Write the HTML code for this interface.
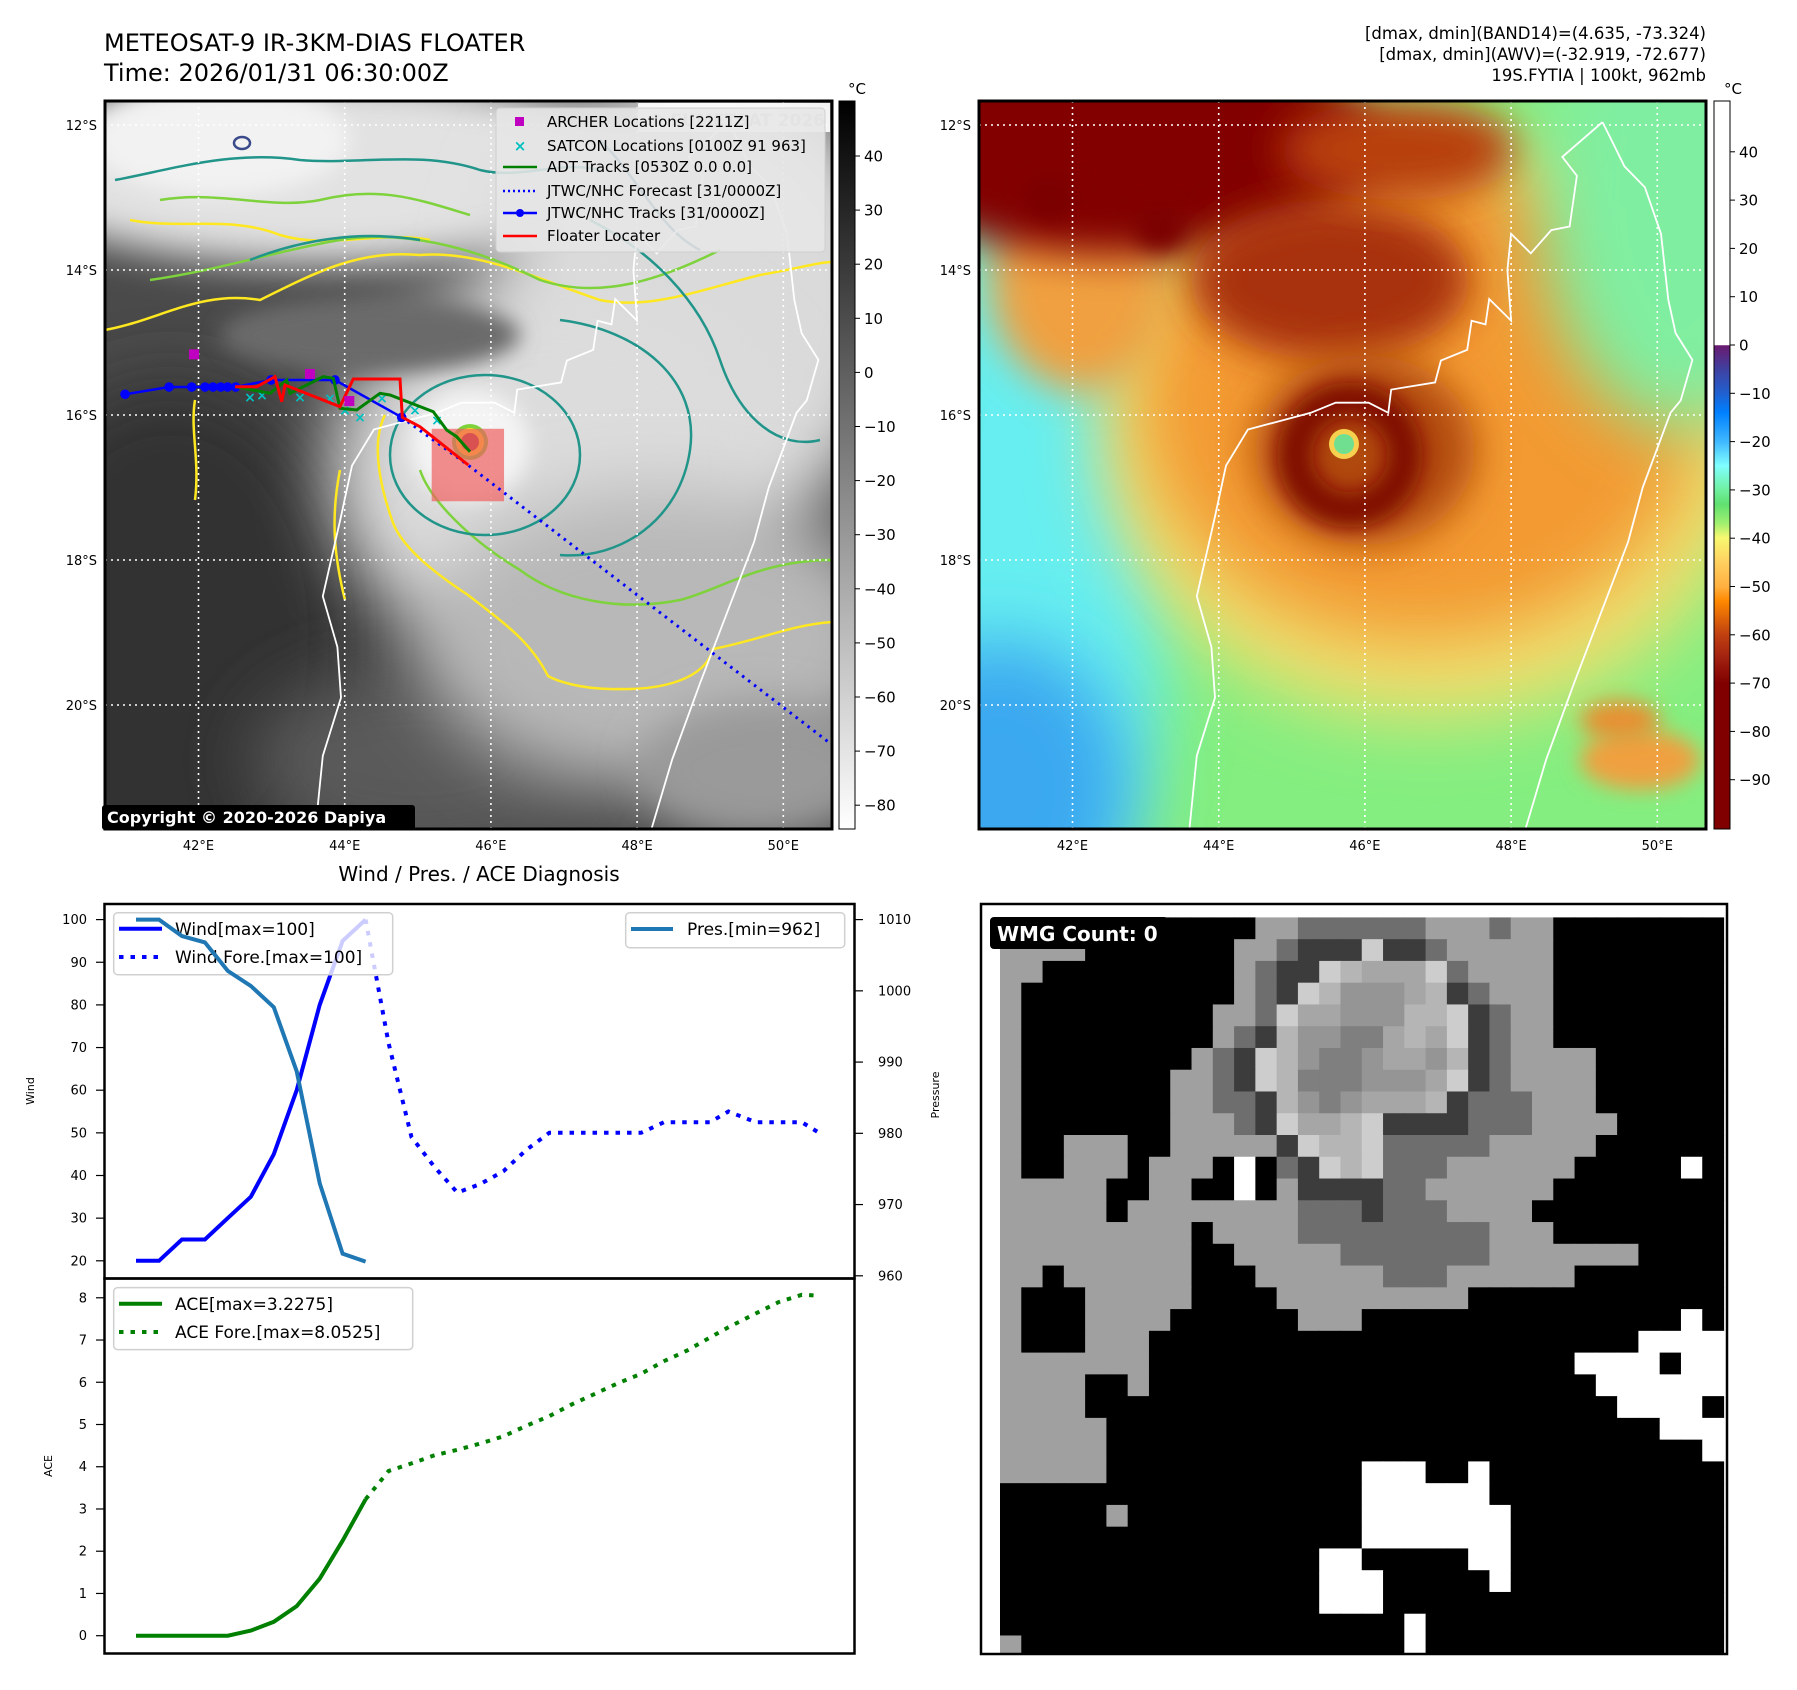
<!DOCTYPE html>
<html><head><meta charset="utf-8">
<style>
html,body{margin:0;padding:0;background:#fff;}
svg{display:block;font-family:"DejaVu Sans","Liberation Sans",sans-serif;}
</style></head>
<body>
<svg id="root" xmlns="http://www.w3.org/2000/svg" width="1797" height="1690" viewBox="0 0 1797 1690">
<defs>
  <clipPath id="clipL"><rect x="105" y="101" width="727" height="728"/></clipPath>
  <clipPath id="clipR"><rect x="979" y="101" width="727" height="728"/></clipPath>
  <clipPath id="clipW"><rect x="981" y="904" width="746" height="750"/></clipPath>
  <filter id="b10" x="-50%" y="-50%" width="200%" height="200%"><feGaussianBlur stdDeviation="10"/></filter>
  <filter id="b20" x="-50%" y="-50%" width="200%" height="200%"><feGaussianBlur stdDeviation="20"/></filter>
  <filter id="b35" x="-50%" y="-50%" width="200%" height="200%"><feGaussianBlur stdDeviation="35"/></filter>
  <linearGradient id="cbGray" x1="0" y1="0" x2="0" y2="1">
    <stop offset="0" stop-color="#000"/><stop offset="1" stop-color="#fff"/>
  </linearGradient>
  <linearGradient id="cbColor" x1="0" y1="0" x2="0" y2="1">
    <stop offset="0" stop-color="#fff"/><stop offset="0.335" stop-color="#fff"/>
    <stop offset="0.336" stop-color="#6a1a70"/><stop offset="0.368" stop-color="#4040a0"/>
    <stop offset="0.4015" stop-color="#2060d0"/><stop offset="0.428" stop-color="#0080ff"/>
    <stop offset="0.468" stop-color="#40b8ff"/><stop offset="0.501" stop-color="#80ffff"/>
    <stop offset="0.534" stop-color="#70f0a0"/><stop offset="0.554" stop-color="#60e070"/>
    <stop offset="0.58" stop-color="#a0f070"/><stop offset="0.6" stop-color="#f8f870"/>
    <stop offset="0.634" stop-color="#ffd060"/><stop offset="0.667" stop-color="#ffb040"/>
    <stop offset="0.687" stop-color="#ff8800"/><stop offset="0.733" stop-color="#c04010"/>
    <stop offset="0.766" stop-color="#a02010"/><stop offset="0.8" stop-color="#800000"/>
    <stop offset="1" stop-color="#800000"/>
  </linearGradient>
</defs>

<text x="104" y="51" font-size="24">METEOSAT-9 IR-3KM-DIAS FLOATER</text>
<text x="104" y="81" font-size="24">Time: 2026/01/31 06:30:00Z</text>
<g font-size="16.5" text-anchor="end">
  <text x="1706" y="39">[dmax, dmin](BAND14)=(4.635, -73.324)</text>
  <text x="1706" y="60">[dmax, dmin](AWV)=(-32.919, -72.677)</text>
  <text x="1706" y="81">19S.FYTIA | 100kt, 962mb</text>
</g>

<g id="leftMap" clip-path="url(#clipL)">
  <rect x="105" y="101" width="727" height="728" fill="#4a4a4a"/>
  <ellipse cx="170" cy="640" rx="190" ry="260" fill="#313131" filter="url(#b35)"/>
  <ellipse cx="420" cy="760" rx="170" ry="90" fill="#5a5a5a" filter="url(#b35)"/>
  <ellipse cx="320" cy="170" rx="320" ry="95" fill="#e2e2e2" filter="url(#b20)"/>
  <ellipse cx="220" cy="140" rx="130" ry="55" fill="#f2f2f2" filter="url(#b10)"/>
  <ellipse cx="700" cy="300" rx="210" ry="230" fill="#dadada" filter="url(#b35)"/>
  <ellipse cx="560" cy="470" rx="230" ry="190" fill="#dcdcdc" filter="url(#b35)"/>
  <ellipse cx="660" cy="640" rx="240" ry="150" fill="#b8b8b8" filter="url(#b35)"/>
  <ellipse cx="760" cy="770" rx="120" ry="70" fill="#9a9a9a" filter="url(#b20)"/>
  <ellipse cx="370" cy="335" rx="150" ry="38" fill="#6a6a6a" filter="url(#b10)"/>
  <ellipse cx="470" cy="445" rx="60" ry="55" fill="#f4f4f4" filter="url(#b10)"/>
  <g fill="none" stroke-width="2.5">
    <path d="M105,330 C160,320 200,290 260,300 C320,270 360,250 420,255 C480,250 540,280 600,300 C650,310 700,290 760,275 C800,268 820,262 832,262" stroke="#ffe820"/>
    <path d="M832,622 C790,625 760,640 713,649 C705,680 660,690 619,689 C580,690 555,680 548,676 C530,640 500,620 468,595 C430,570 400,545 392,520 C378,480 372,440 385,415" stroke="#ffe820"/>
    <path d="M340,470 C330,520 335,560 345,600" stroke="#ffe820"/>
    <path d="M195,400 C190,430 200,460 195,500" stroke="#ffe820"/>
    <path d="M130,220 C180,230 230,215 280,235 C330,250 380,230 430,240" stroke="#ffe820"/>
    <path d="M150,280 C220,270 280,250 340,240 C400,230 470,245 540,280 C600,300 660,280 720,250" stroke="#7ed23c"/>
    <path d="M832,560 C760,560 720,590 680,600 C620,612 560,600 520,570 C470,540 430,500 420,470" stroke="#7ed23c"/>
    <path d="M160,200 C220,190 270,210 320,200 C380,185 420,200 470,215" stroke="#7ed23c"/>
    <path d="M115,180 C170,170 230,150 300,160 C360,165 420,150 480,170 C520,180 560,160 600,170" stroke="#21958a"/>
    <path d="M250,260 C300,240 360,230 420,240" stroke="#21958a"/>
    <ellipse cx="485" cy="455" rx="95" ry="80" stroke="#21958a"/>
    <path d="M560,320 C640,330 700,380 690,450 C680,520 620,560 560,555" stroke="#21958a"/>
    <path d="M590,220 C650,250 700,300 720,360 C740,420 780,450 820,440" stroke="#21958a"/>
    <path d="M600,140 C640,180 660,230 700,250" stroke="#2a6e8a"/>
    <ellipse cx="242" cy="143" rx="8" ry="6" stroke="#3a4a8a"/>
  </g>
  <circle cx="470" cy="442" r="18" fill="#7ed23c"/>
  <circle cx="470" cy="442" r="14" fill="#ffe820"/>
  <circle cx="470" cy="442" r="9" fill="#a83030"/>
  <g id="gridL" stroke="#fff" stroke-width="1.6" stroke-dasharray="2 4"></g>
  <g id="coastL"></g>
  <g id="tracks"></g>
</g>
<rect x="105" y="101" width="727" height="728" fill="none" stroke="#000" stroke-width="3"/>
<rect x="638" y="103" width="192" height="29" fill="#fff" opacity="0.9"/>
<text x="825" y="126" font-size="17" font-weight="bold" fill="#cfcfcf" text-anchor="end">© EUMETSAT 2026</text>
<g>
  <rect x="496" y="108" width="329" height="144" rx="4" fill="#e6e6e6" fill-opacity="0.88" stroke="#cfcfcf"/>
  <rect x="515" y="117" width="9" height="9" fill="#c000c0"/>
  <text x="520" y="151" font-size="15" font-weight="bold" fill="#00c0c0" text-anchor="middle">×</text>
  <line x1="503" y1="167" x2="537" y2="167" stroke="#008000" stroke-width="2.5"/>
  <line x1="503" y1="191" x2="537" y2="191" stroke="#0000ff" stroke-width="2.5" stroke-dasharray="2 3"/>
  <line x1="503" y1="213" x2="537" y2="213" stroke="#0000ff" stroke-width="2.5"/>
  <circle cx="520" cy="213" r="4" fill="#0000ff"/>
  <line x1="503" y1="236" x2="537" y2="236" stroke="#ff0000" stroke-width="2.5"/>
  <g font-size="15">
    <text x="547" y="127">ARCHER Locations [2211Z]</text>
    <text x="547" y="151">SATCON Locations [0100Z 91 963]</text>
    <text x="547" y="172">ADT Tracks [0530Z 0.0 0.0]</text>
    <text x="547" y="196">JTWC/NHC Forecast [31/0000Z]</text>
    <text x="547" y="218">JTWC/NHC Tracks [31/0000Z]</text>
    <text x="547" y="241">Floater Locater</text>
  </g>
</g>
<rect x="102" y="805" width="313" height="25" rx="3" fill="#000"/>
<text x="107" y="823" font-size="16" font-weight="bold" fill="#fff">Copyright © 2020-2026 Dapiya</text>
<rect x="839" y="101" width="16" height="728" fill="url(#cbGray)" stroke="#000" stroke-width="1"/>
<text x="857" y="94" font-size="15" text-anchor="middle">°C</text>
<g id="cbLticks" font-size="15"></g>

<g clip-path="url(#clipR)">
  <rect x="979" y="101" width="727" height="728" fill="#84ee80"/>
  <ellipse cx="1030" cy="560" rx="140" ry="380" fill="#66eef0" filter="url(#b35)"/>
  <ellipse cx="1000" cy="790" rx="130" ry="150" fill="#3aa8f0" filter="url(#b35)"/>
  <ellipse cx="1430" cy="430" rx="330" ry="290" fill="#f0e070" filter="url(#b35)"/>
  <ellipse cx="1420" cy="400" rx="280" ry="240" fill="#f39a30" filter="url(#b35)"/>
  <ellipse cx="1080" cy="280" rx="90" ry="110" fill="#f0a040" filter="url(#b20)"/>
  <ellipse cx="1120" cy="145" rx="260" ry="110" fill="#820400" filter="url(#b20)"/>
  <ellipse cx="1330" cy="280" rx="140" ry="80" fill="#a83008" filter="url(#b20)"/>
  <ellipse cx="1400" cy="150" rx="120" ry="50" fill="#b84010" filter="url(#b20)"/>
  <ellipse cx="1680" cy="200" rx="140" ry="230" fill="#80eea0" filter="url(#b35)"/>
  <ellipse cx="1365" cy="450" rx="110" ry="95" fill="#b04a08" filter="url(#b20)"/>
  <circle cx="1350" cy="455" r="55" fill="none" stroke="#800c00" stroke-width="35" filter="url(#b10)"/>
  <ellipse cx="1160" cy="230" rx="25" ry="20" fill="#7a0000" filter="url(#b10)"/>
  <ellipse cx="1050" cy="200" rx="25" ry="20" fill="#7a0000" filter="url(#b10)"/>
  <ellipse cx="1640" cy="760" rx="60" ry="30" fill="#f0a040" filter="url(#b10)"/>
  <ellipse cx="1620" cy="720" rx="40" ry="20" fill="#e89030" filter="url(#b10)"/>
  <circle cx="1344" cy="444" r="15" fill="#f8d050"/>
  <circle cx="1344" cy="444" r="10" fill="#70e090"/>
  <g id="gridR" stroke="#fff" stroke-width="1.6" stroke-dasharray="2 4"></g>
  <g id="coastR"></g>
</g>
<rect x="979" y="101" width="727" height="728" fill="none" stroke="#000" stroke-width="3"/>
<rect x="1714" y="101" width="16" height="728" fill="url(#cbColor)" stroke="#000" stroke-width="1"/>
<text x="1733" y="94" font-size="15" text-anchor="middle">°C</text>
<g id="cbRticks" font-size="15"></g>
<g id="mapLabels" font-size="13"></g>

<text x="479" y="881" font-size="20" text-anchor="middle">Wind / Pres. / ACE Diagnosis</text>
<g id="chart"></g>

<rect x="981" y="904" width="746" height="750" fill="#fff"/>
<g id="wmg" clip-path="url(#clipW)"></g>
<rect x="981" y="904" width="746" height="750" fill="none" stroke="#000" stroke-width="2.5"/>
<rect x="990" y="917" width="178" height="32" rx="4" fill="#000"/>
<text x="997" y="941" font-size="20" font-weight="bold" fill="#fff">WMG Count: 0</text>
</svg>

<script>
const histIdx   = [0,1,2,3,4,5,6,7,8,9,10];
const windVals  = [20,20,25,25,30,35,45,60,80,95,100];
const presVals  = [1010,1010,1007.7,1006.8,1002.8,1000.7,997.7,988.7,973,963.1,962];
const aceVals   = [0,0,0,0,0,0.12,0.33,0.7,1.35,2.25,3.23];
const foreIdx   = [10,11,12,13,14,15,16,17,18,19,20,21,22,23,24,25,25.8,27,28,29,29.75];
const windFore  = [100,71,49,42,36,38,41,46,50,50,50,50,50,52.5,52.5,52.5,55,52.5,52.5,52.5,50];
const aceFore   = [3.23,3.9,4.08,4.27,4.4,4.55,4.72,4.97,5.2,5.48,5.73,5.98,6.2,6.5,6.75,7.06,7.3,7.63,7.9,8.07,8.05];
const windTicks = [20,30,40,50,60,70,80,90,100];
const presTicks = [960,970,980,990,1000,1010];
const aceTicks  = [0,1,2,3,4,5,6,7,8];
const jtwcLon = [40.995,41.597,41.907,42.089,42.198,42.304,42.399,42.509,42.992,43.867,44.780];
const jtwcLat = [15.714,15.614,15.614,15.614,15.614,15.614,15.614,15.614,15.517,15.517,16.032];
const foreLon = [44.780,45.687,50.653,51.3];
const foreLat = [16.032,16.690,20.538,21.04];
const redLon = [42.499,42.796,43.047,43.138,43.183,43.936,44.118,44.757,44.788,45.030,45.691];
const redLat = [15.610,15.610,15.472,15.817,15.586,15.886,15.503,15.503,16.032,16.161,16.690];
const adtLon = [42.499,42.978,43.207,43.252,43.434,43.707,43.844,43.936,44.164,44.483,44.620,45.212,45.395,45.532,45.714];
const adtLat = [15.610,15.701,15.517,15.701,15.610,15.472,15.494,15.906,15.931,15.701,15.724,15.954,16.207,16.299,16.506];
const archerLon = [41.938,43.525,44.063];
const archerLat = [15.163,15.434,15.807];
const satconLon = [42.705,42.869,43.389,43.799,44.004,44.210,44.510,44.962,45.263];
const satconLat = [15.752,15.724,15.752,15.766,15.931,16.028,15.766,15.931,16.069];
const floaterBox = [45.19,16.19,46.18,17.19];
const coastWest = [[49.25,11.96],[48.7,12.44],[48.9,12.7],[48.8,13.4],[48.55,13.45],[48.27,13.77],[48.0,13.5],[47.95,14.0],[48.0,14.7],[47.7,14.4],[47.65,14.75],[47.46,14.7],[47.4,15.1],[47.04,15.25],[46.96,15.55],[46.36,15.65],[46.32,15.97],[46.05,15.83],[45.6,15.83],[45.26,15.97],[44.4,16.2],[44.1,16.7],[43.95,17.4],[43.7,18.5],[43.9,19.2],[43.95,19.9],[43.7,20.7],[43.6,21.7],[43.5,22.5]];
const coastEast = [[49.25,11.96],[49.37,12.2],[49.55,12.57],[49.83,12.86],[50.05,13.5],[50.15,14.41],[50.25,14.87],[50.48,15.24],[50.32,15.8],[50.18,15.97],[49.8,17.0],[49.6,17.75],[49.26,18.65],[48.86,19.7],[48.48,20.75],[48.2,21.7],[48.0,22.5]];
const lonTicks = [42,44,46,48,50];
const latTicks = [12,14,16,18,20];
const cbLTicks = [40,30,20,10,0,-10,-20,-30,-40,-50,-60,-70,-80];
const cbRTicks = [40,30,20,10,0,-10,-20,-30,-40,-50,-60,-70,-80,-90];
const wmgRows = [
"............ggmmmmmmgggmgg........",
"gggg.......ggmdddaddmggggg........",
"gg.........gmddabcccamgggg........",
"g..........gmdabeeecbdmggg........",
"g.........ggmacceeebbadmgg........",
"g.........gmdbeeffcbcadmgg........",
"g........gmdabeffeccebdmgggg......",
"g.......ggmdabfffeeecadmgggg......",
"g.......ggmmdbefecccbdmmmggg......",
"g.......gggmdaccbaddddmmmgggg.....",
"g..ggg..gggggdabbammmmmggggg......",
"g..ggg.ggg.w.mdabammmgggggg.....w.",
"ggggg..gg..w.gddddmmgggggg........",
"ggggg.ggggggggmmmdmmmgggg.........",
"ggggggggg.ggggmmmmmmmmmggg........",
"ggggggggg..gggggmmmmmmmggggggg....",
"gg.gggggg...ggggggmmmgggggg.......",
"g...ggggg....ggggggggg............",
"g...gggg......ggg...............w.",
"g...ggg.......................wwww",
"ggggggg....................wwww.ww",
"gggg..g.....................wwwwww",
"gggg.........................wwww.",
"ggggg..........................www",
"ggggg............................w",
"ggggg............www..w...........",
".................wwwwww...........",
".....g...........wwwwwww..........",
".................wwwwwww..........",
"...............ww.....ww..........",
"...............www.....w..........",
"...............www................",
"...................w..............",
"g..................w.............."
];
const wmgColors = {'.':'#000000','g':'#a0a0a0','m':'#6e6e6e','d':'#3c3c3c','w':'#ffffff','a':'#cdcdcd','b':'#b5b5b5','c':'#a6a6a6','e':'#959595','f':'#7f7f7f'};

const NS='http://www.w3.org/2000/svg';
function mk(parent, tag, attrs, text){
  const el=document.createElementNS(NS,tag);
  for(const k in attrs) el.setAttribute(k,attrs[k]);
  if(text!==undefined) el.textContent=text;
  parent.appendChild(el);
  return el;
}
function lonX(lon, off){ return 198.5 + (off||0) + (lon-42)*73.1; }
function latY(lat){ return 125 + (lat-12)*72.5; }
function ptsLL(lons,lats,off){ return lons.map((v,i)=>lonX(v,off).toFixed(1)+','+latY(lats[i]).toFixed(1)).join(' '); }

[['gridL',0,105,832],['gridR',874,979,1706]].forEach(([id,off,x0,x1])=>{
  const g=document.getElementById(id);
  lonTicks.forEach(lo=>{
    const l=mk(g,'line',{x1:lonX(lo,off),x2:lonX(lo,off),y1:101,y2:829});
    
    
  });
  latTicks.forEach(la=>{
    const l=mk(g,'line',{x1:x0,x2:x1,y1:latY(la),y2:latY(la)});
    
    
  });
});
[['coastL',0],['coastR',874]].forEach(([id,off])=>{
  const g=document.getElementById(id);
  [coastWest,coastEast].forEach((c,ci)=>{
    const p=mk(g,'polyline',{points:c.map(q=>lonX(q[0],off).toFixed(1)+','+latY(q[1]).toFixed(1)).join(' '),fill:'none',stroke:'#fff','stroke-width':1.8});
    
    
  });
});

(function(){
  const g=document.getElementById('tracks');
  const fb=mk(g,'rect',{x:lonX(floaterBox[0]),y:latY(floaterBox[1]),width:lonX(floaterBox[2])-lonX(floaterBox[0]),height:latY(floaterBox[3])-latY(floaterBox[1]),fill:'#f06060','fill-opacity':0.7});
  
  
  const fc=mk(g,'polyline',{points:ptsLL(foreLon,foreLat),fill:'none',stroke:'#0000ff','stroke-width':3,'stroke-dasharray':'2.5 5'});
  
  
  const jt=mk(g,'polyline',{points:ptsLL(jtwcLon,jtwcLat),fill:'none',stroke:'#0000ff','stroke-width':2.5});
  
  
  jtwcLon.forEach((lo,i)=>{
    const c=mk(g,'circle',{cx:lonX(lo),cy:latY(jtwcLat[i]),r:4.8,fill:'#0000ff'});
    
    
  });
  satconLon.forEach((lo,i)=>{
    const t=mk(g,'text',{x:lonX(lo),y:latY(satconLat[i])+5,'font-size':14,'font-weight':'bold',fill:'#00c0c0','text-anchor':'middle'},'×');
    
    
  });
  const ad=mk(g,'polyline',{points:ptsLL(adtLon,adtLat),fill:'none',stroke:'#008000','stroke-width':3});
  
  
  const rd=mk(g,'polyline',{points:ptsLL(redLon,redLat),fill:'none',stroke:'#ff0000','stroke-width':3});
  
  
  archerLon.forEach((lo,i)=>{
    const r=mk(g,'rect',{x:lonX(lo)-5,y:latY(archerLat[i])-5,width:10,height:10,fill:'#c000c0'});
    
    
  });
})();

(function(){
  const g=document.getElementById('mapLabels');
  [0,874].forEach(off=>{
    latTicks.forEach(la=>{
      const t=mk(g,'text',{x:97+off,y:latY(la)+5,'text-anchor':'end'},la+'°S');
      
      
    });
    lonTicks.forEach(lo=>{
      const t=mk(g,'text',{x:lonX(lo,off),y:850,'text-anchor':'middle'},lo+'°E');
      
      
    });
  });
  const gl=document.getElementById('cbLticks');
  cbLTicks.forEach(v=>{
    const y=156+(40-v)*5.41;
    mk(gl,'line',{x1:855,x2:860,y1:y,y2:y,stroke:'#000'});
    const t=mk(gl,'text',{x:864,y:y+5.5},(v<0?'\u2212'+(-v):String(v)));
    
    
  });
  const gr=document.getElementById('cbRticks');
  cbRTicks.forEach(v=>{
    const y=345-v*4.83;
    mk(gr,'line',{x1:1730,x2:1735,y1:y,y2:y,stroke:'#000'});
    const t=mk(gr,'text',{x:1739,y:y+5.5},(v<0?'\u2212'+(-v):String(v)));
    
    
  });
})();

(function(){
  const g=document.getElementById('chart');
  const X=i=>136+i*22.96;
  const YW=v=>1260.8-(v-20)*4.265;
  const YP=p=>1275.8-(p-960)*7.124;
  const YA=a=>1635.7-a*42.24;
  const pl=(xs,ys,fx,fy)=>xs.map((x,i)=>fx(x).toFixed(1)+','+fy(ys[i]).toFixed(1)).join(' ');
  windTicks.forEach(v=>{
    mk(g,'line',{x1:96,x2:104.5,y1:YW(v),y2:YW(v),stroke:'#000','stroke-width':1.2});
    const t=mk(g,'text',{x:87,y:YW(v)+4.5,'font-size':13,'text-anchor':'end'},String(v));
    
    
  });
  presTicks.forEach(v=>{
    mk(g,'line',{x1:854.5,x2:863,y1:YP(v),y2:YP(v),stroke:'#000','stroke-width':1.2});
    const t=mk(g,'text',{x:878,y:YP(v)+4.5,'font-size':13},String(v));
    
    
  });
  aceTicks.forEach(v=>{
    mk(g,'line',{x1:96,x2:104.5,y1:YA(v),y2:YA(v),stroke:'#000','stroke-width':1.2});
    const t=mk(g,'text',{x:87,y:YA(v)+4.5,'font-size':13,'text-anchor':'end'},String(v));
    
    
  });
  const yl1=mk(g,'text',{x:0,y:0,'font-size':11,'text-anchor':'middle',transform:'translate(34,1091) rotate(-90)'},'Wind');
  
  
  const yl2=mk(g,'text',{x:0,y:0,'font-size':11,'text-anchor':'middle',transform:'translate(939,1095) rotate(-90)'},'Pressure');
  
  
  const yl3=mk(g,'text',{x:0,y:0,'font-size':11,'text-anchor':'middle',transform:'translate(52,1466) rotate(-90)'},'ACE');
  
  
  const w1=mk(g,'polyline',{points:pl(histIdx,windVals,X,YW),fill:'none',stroke:'#0000ff','stroke-width':4});
  
  
  const w2=mk(g,'polyline',{points:pl(foreIdx,windFore,X,YW),fill:'none',stroke:'#0000ff','stroke-width':4,'stroke-dasharray':'4.5 7'});
  
  
  const lg=mk(g,'g',{});
  
  
  mk(lg,'rect',{x:113.7,y:912.7,width:279,height:62,rx:4,fill:'#fff','fill-opacity':0.8,stroke:'#d0d0d0','stroke-width':1.5});
  mk(lg,'line',{x1:119,x2:162,y1:928.7,y2:928.7,stroke:'#0000ff','stroke-width':4});
  mk(lg,'line',{x1:119,x2:162,y1:957,y2:957,stroke:'#0000ff','stroke-width':4,'stroke-dasharray':'4.5 7'});
  mk(lg,'text',{x:175,y:935,'font-size':17},'Wind[max=100]');
  mk(lg,'text',{x:175,y:963,'font-size':17},'Wind Fore.[max=100]');
  const p1=mk(g,'polyline',{points:pl(histIdx,presVals,X,YP),fill:'none',stroke:'#1f77b4','stroke-width':4});
  
  
  const pg=mk(g,'g',{});
  
  
  mk(pg,'rect',{x:625.7,y:912.7,width:219,height:35,rx:4,fill:'#fff','fill-opacity':0.8,stroke:'#d0d0d0','stroke-width':1.5});
  mk(pg,'line',{x1:631,x2:673,y1:929,y2:929,stroke:'#1f77b4','stroke-width':4});
  mk(pg,'text',{x:687,y:935,'font-size':17},'Pres.[min=962]');
  const a1=mk(g,'polyline',{points:pl(histIdx,aceVals,X,YA),fill:'none',stroke:'#008000','stroke-width':4});
  
  
  const a2=mk(g,'polyline',{points:pl(foreIdx,aceFore,X,YA),fill:'none',stroke:'#008000','stroke-width':4,'stroke-dasharray':'4.5 7'});
  
  
  const ag=mk(g,'g',{});
  
  
  mk(ag,'rect',{x:113.7,y:1287.6,width:299,height:62,rx:4,fill:'#fff','fill-opacity':0.8,stroke:'#d0d0d0','stroke-width':1.5});
  mk(ag,'line',{x1:119,x2:162,y1:1303.7,y2:1303.7,stroke:'#008000','stroke-width':4});
  mk(ag,'line',{x1:119,x2:162,y1:1332,y2:1332,stroke:'#008000','stroke-width':4,'stroke-dasharray':'4.5 7'});
  mk(ag,'text',{x:175,y:1310,'font-size':17},'ACE[max=3.2275]');
  mk(ag,'text',{x:175,y:1338,'font-size':17},'ACE Fore.[max=8.0525]');
  const fr1=mk(g,'rect',{x:104.5,y:904,width:750,height:374.5,fill:'none',stroke:'#000','stroke-width':2.5});
  
  
  const fr2=mk(g,'rect',{x:104.5,y:1278.5,width:750,height:375,fill:'none',stroke:'#000','stroke-width':2.5});
  
  
})();

(function(){
  const g=document.getElementById('wmg');
  const x0=1000, y0=917.4, cw=21.28, chh=21.76;
  wmgRows.forEach((row,r)=>{
    for(let c=0;c<row.length;c++){
      const k=row[c];
      const cell=mk(g,'rect',{x:(x0+c*cw).toFixed(2),y:(y0+r*chh).toFixed(2),width:(cw+0.6).toFixed(2),height:(chh+0.6).toFixed(2),fill:wmgColors[k]||'#000'});
      
      
    }
  });
})();
</script>
</body></html>
